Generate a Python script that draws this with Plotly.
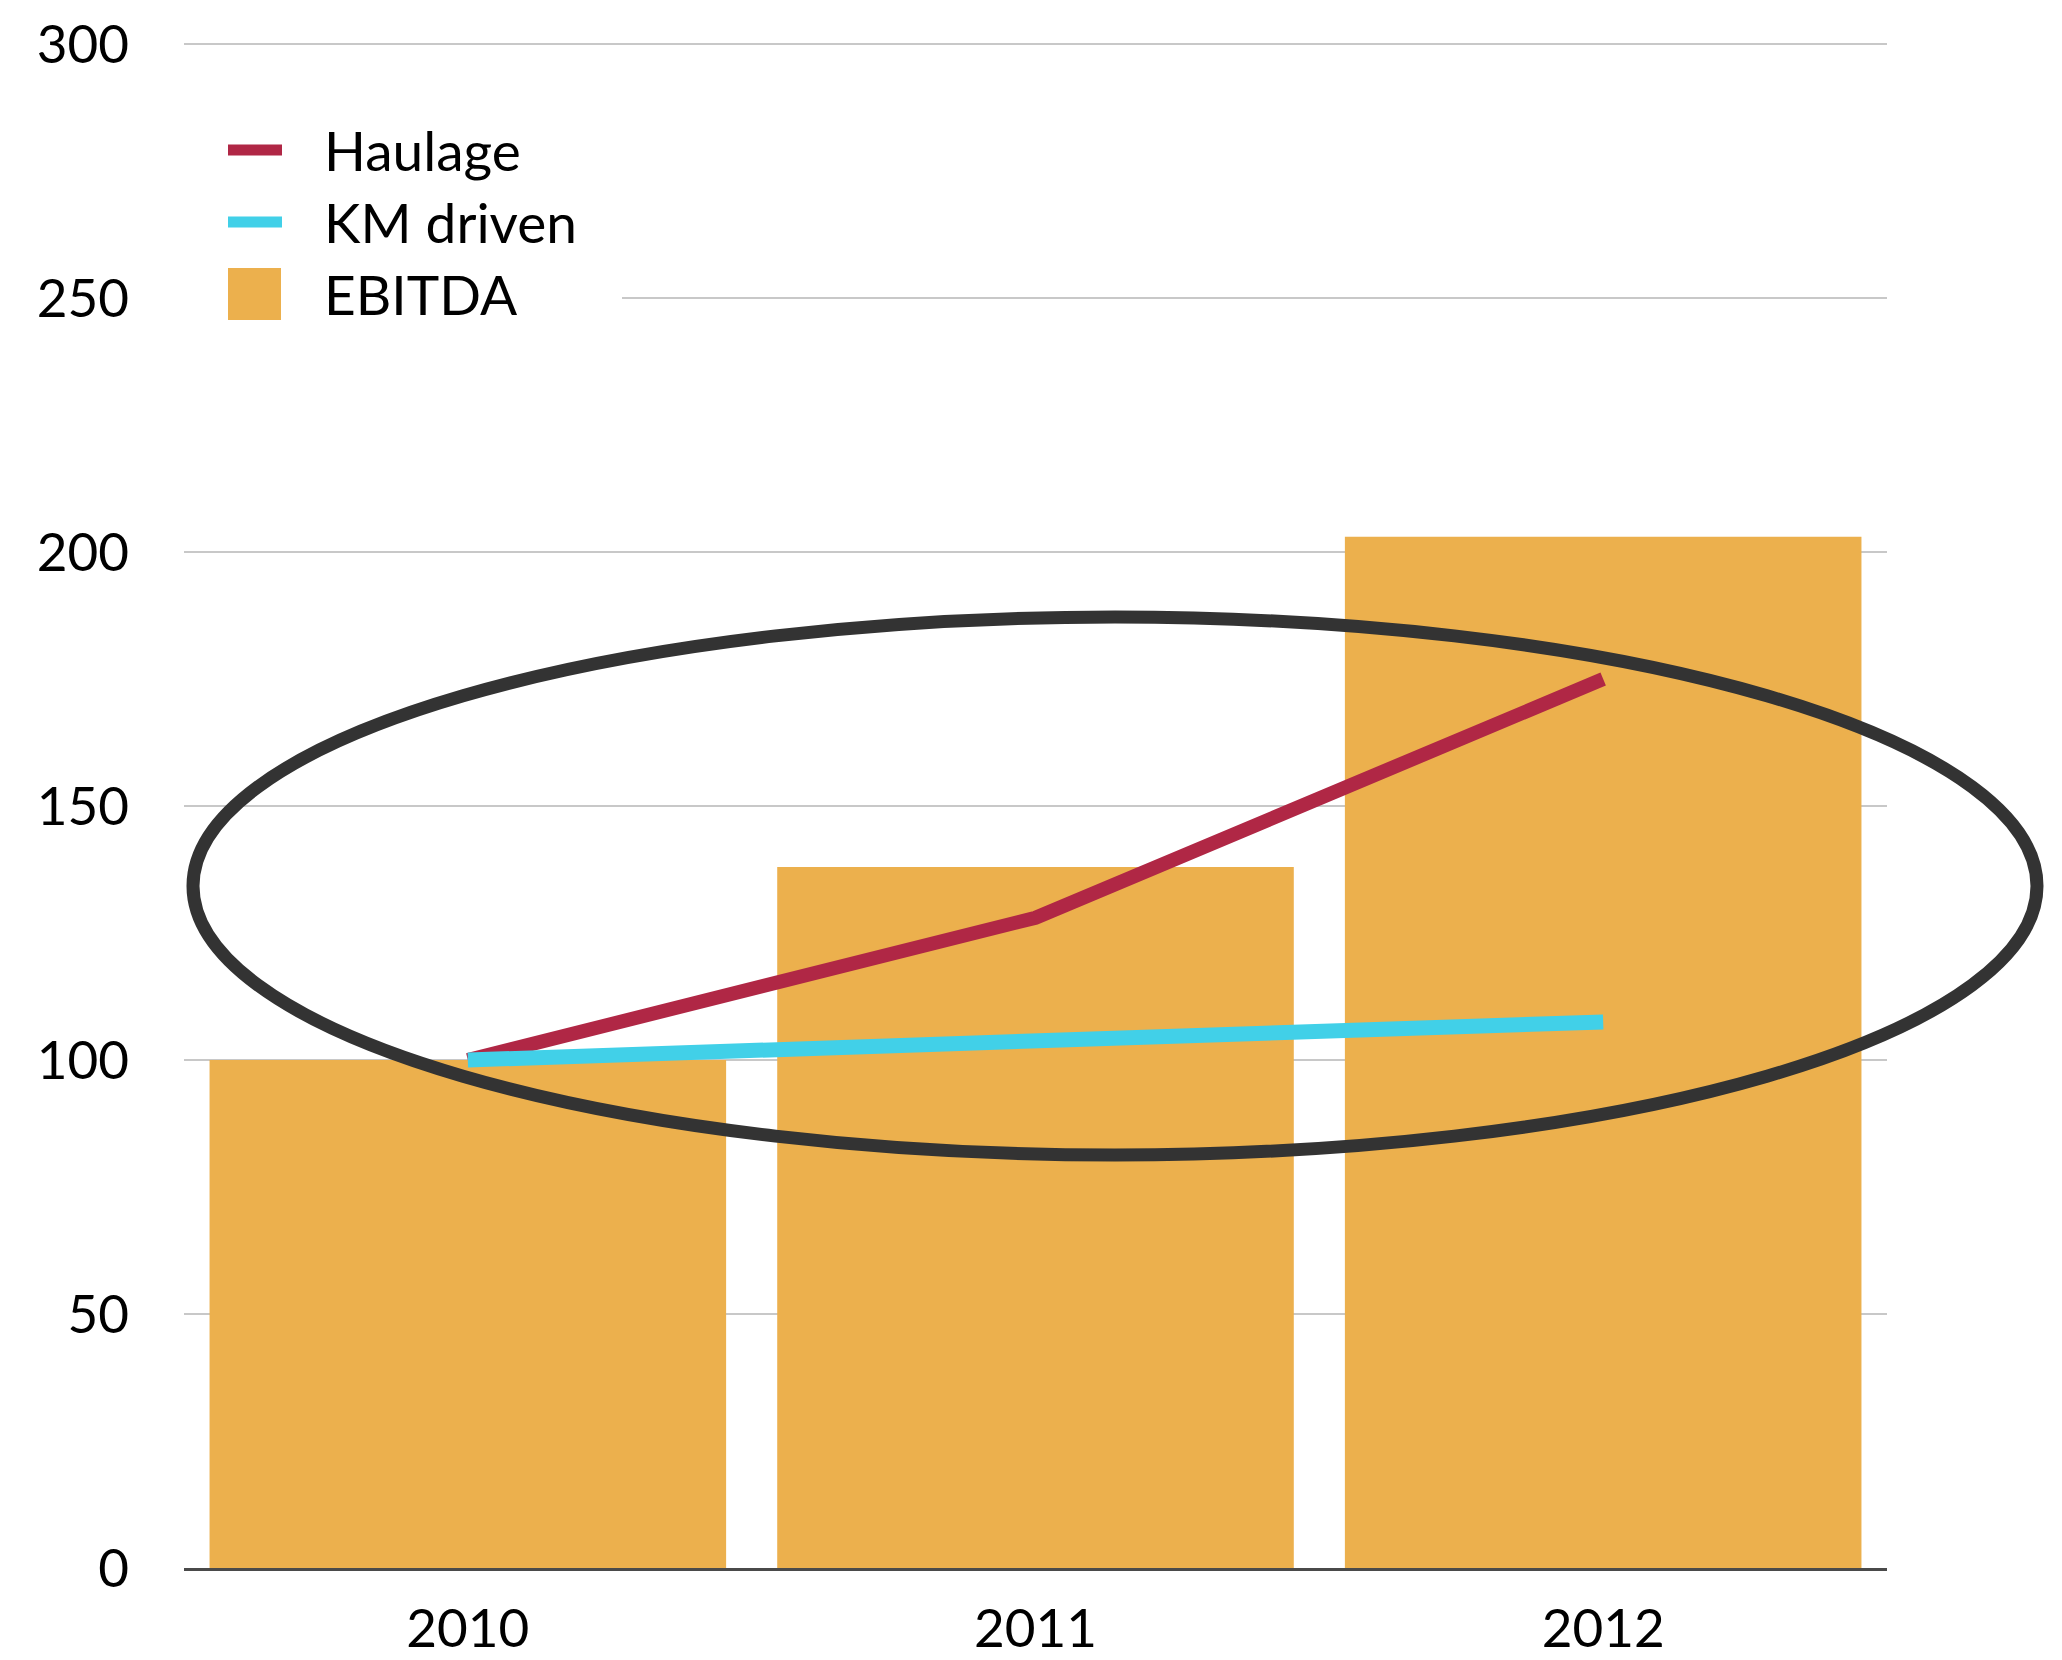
import plotly.graph_objects as go

years = ["2010", "2011", "2012"]
ebitda = [100, 138, 203]
haulage = [100, 128, 175]
km_driven = [100, 104, 107.5]
y_ticks = [0, 50, 100, 150, 200, 250, 300]

series_names = ["Haulage", "KM driven", "EBITDA"]
series_colors = {"Haulage": "#B02745", "KM driven": "#41D0E8", "EBITDA": "#ECB04D"}

FONT = "Lato"
W, H = 2062, 1660
BODY = 8  # page body margin offset compensation
# intended plot area in page pixels
PL, PR, PT, PB = 184, 1887, 42, 1568
PW, PH = PR - PL, PB - PT

def px2x(px):
    return (px - PL) / PW

def px2y(py):
    return (PB - py) / PH

fig = go.Figure()
fig.add_trace(go.Bar(
    x=years, y=ebitda, name="EBITDA",
    marker=dict(color=series_colors["EBITDA"], line=dict(width=0)),
    showlegend=False,
))
fig.add_trace(go.Scatter(
    x=years, y=haulage, name="Haulage", mode="lines",
    line=dict(color=series_colors["Haulage"], width=14), showlegend=False,
))
fig.add_trace(go.Scatter(
    x=years, y=km_driven, name="KM driven", mode="lines",
    line=dict(color=series_colors["KM driven"], width=15), showlegend=False,
))

shapes = []
annotations = []
# white box behind legend hiding the gridline
shapes.append(dict(type="rect", xref="paper", yref="paper",
                   x0=px2x(PL - 2), x1=px2x(622), y0=px2y(330), y1=px2y(110),
                   fillcolor="white", line=dict(width=0), layer="above"))
# legend
leg_y = [150, 222, 294]
for name, cy in zip(series_names, leg_y):
    c = series_colors[name]
    if name == "EBITDA":
        shapes.append(dict(type="rect", xref="paper", yref="paper",
                           x0=px2x(228), x1=px2x(281), y0=px2y(cy + 26), y1=px2y(cy - 26),
                           fillcolor=c, line=dict(width=0), layer="above"))
    else:
        shapes.append(dict(type="line", xref="paper", yref="paper",
                           x0=px2x(228), x1=px2x(282), y0=px2y(cy), y1=px2y(cy),
                           line=dict(color=c, width=11), layer="above"))
    annotations.append(dict(text=name, xref="paper", yref="paper",
                            x=px2x(322), y=px2y(cy), xanchor="left", yanchor="middle",
                            showarrow=False, font=dict(family=FONT, size=55, color="black")))

# highlight ellipse
shapes.append(dict(type="circle", xref="paper", yref="paper",
                   x0=px2x(193), x1=px2x(2037), y0=px2y(1155), y1=px2y(617),
                   line=dict(color="#333333", width=13), layer="above"))

fig.update_layout(
    width=W, height=H,
    margin=dict(l=PL - BODY, r=W - PR + BODY, t=PT - BODY, b=H - PB + BODY),
    plot_bgcolor="white", paper_bgcolor="white",
    bargap=0.09,
    showlegend=False,
    font=dict(family=FONT, color="black", size=53),
    shapes=shapes,
    annotations=annotations,
    xaxis=dict(showgrid=False, showline=True, linecolor="#4A4A4A", linewidth=3,
               ticks="", tickfont=dict(size=53), ticklabelstandoff=12, automargin=False),
    yaxis=dict(range=[0, 300.4], tickvals=y_ticks, showgrid=True,
               gridcolor="#C8C8C8", gridwidth=2, zeroline=False, showline=False,
               tickfont=dict(size=53), ticklabelstandoff=54, automargin=False),
)

fig.write_html("out.html")
